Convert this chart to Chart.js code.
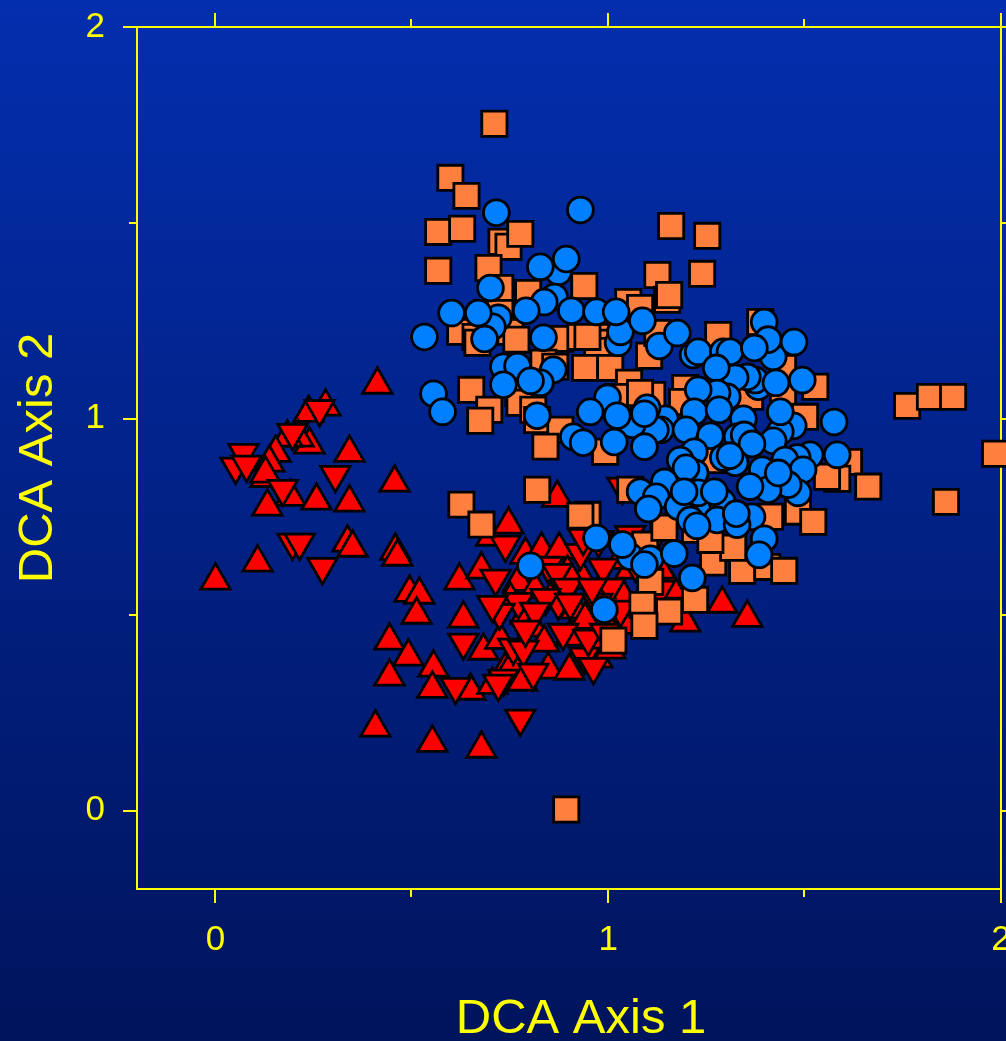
<!DOCTYPE html>
<html>
<head>
<meta charset="utf-8">
<style>
  html, body { margin: 0; padding: 0; width: 1006px; height: 1041px; overflow: hidden; }
  body { background: linear-gradient(to bottom, #032eae, #00145c); }
  canvas { display: block; }
</style>
<script src="https://cdn.jsdelivr.net/npm/chart.js@4"></script>
</head>
<body>
<canvas id="chart" width="1006" height="1041"></canvas>
<script>
// axis setup
const majorTicks = [0, 1, 2];
const minorTicks = [0.5, 1.5];
const axisMin = -0.2;
const axisMax = 2;
const xTitle = "DCA Axis 1";
const yTitle = "DCA Axis 2";

// [axis 1, axis 2]
const triUp = [
  [.412,1.087],[.280,1.031],[.237,1.015],[.341,.913],[.239,.934],[.211,.952],[.183,.952],[.153,.913],
  [.137,.888],[.127,.849],[.127,.860],[.191,.801],[.132,.776],[.257,.791],[.341,.786],[.456,.837],
  [.336,.684],[.349,.671],[.458,.663],[.463,.648],[.107,.633],[0,.587],[.494,.556],[.519,.551],
  [.512,.500],[.631,.490],[.443,.434],[.491,.393],[.682,.408],[.555,.365],[.443,.342],[.552,.311],
  [.649,.306],[.705,.321],[.738,.360],[.407,.212],[.552,.173],[.677,.158],[.621,.587],[.677,.615],
  [.702,.699],[.746,.730],[.870,.798],[.789,.653],[.830,.666],[.875,.666],[.771,.584],[.789,.500],
  [.809,.467],[.837,.429],[.847,.360],[.901,.357],[.903,.444],[.972,.388],[.987,.487],[.936,.589],
  [.896,.607],[1.056,.615],[1.038,.546],[1.163,.564],[1.196,.480],[1.290,.528],[1.354,.492],
  [.814,.564],[.852,.538],[.916,.513],[.980,.564],[1.031,.640],[1.081,.679],[1.107,.538],[1.132,.615],
  [1.005,.411],[.941,.487],[.751,.538],[.725,.436],[.756,.372],[.781,.329],[.980,.436],[1.043,.474]
];
const triDown = [
  [.071,.913],[.051,.878],[.079,.883],[.265,1.025],[.196,.964],[.305,.857],[.171,.821],[.196,.684],
  [.214,.684],[.272,.622],[.738,.679],[.713,.592],[.771,.533],[.723,.505],[.705,.525],[.631,.429],
  [.758,.416],[.784,.411],[.809,.352],[.733,.337],[.720,.324],[.611,.316],[.776,.235],[.847,.625],
  [.870,.607],[.929,.658],[.896,.569],[.873,.531],[.840,.543],[.903,.531],[.814,.508],[.885,.454],
  [.939,.393],[.949,.439],[.962,.367],[.987,.620],[1.005,.569],[.972,.531],[.959,.569],[.975,.691],
  [1.056,.704],[.992,.454],[.936,.696],[1.036,.827],[1.069,.628],[1.107,.679],[1.132,.564],[1.031,.513],
  [.789,.462]
];
const squares = [
  [.710,1.753],[.598,1.615],[.639,1.569],[.567,1.477],[.628,1.485],[.728,1.452],[.746,1.439],[.776,1.472],
  [.567,1.378],[.695,1.385],[.725,1.334],[.796,1.321],[.939,1.339],[1.051,1.298],[1.081,1.283],[1.125,1.367],
  [1.160,1.492],[1.252,1.467],[1.239,1.370],[1.150,1.304],[1.155,1.316],[.692,1.270],[.725,1.270],[.623,1.222],
  [.662,1.209],[.667,1.194],[.725,1.227],[.751,1.222],[.766,1.202],[.878,1.204],[.929,1.209],[1.000,1.209],
  [1.005,1.194],[.972,1.173],[.947,1.209],[.835,1.143],[.865,1.133],[.941,1.130],[1.005,1.130],[1.104,1.161],
  [1.125,1.219],[.651,1.074],[.697,1.023],[.674,.995],[.771,1.066],[.774,1.041],[.809,1.023],[.819,.997],
  [.878,.972],[.840,.929],[1.053,1.092],[1.025,1.056],[1.112,1.061],[1.196,1.079],[1.188,1.043],[1.081,1.066],
  [1.280,1.214],[1.387,1.247],[1.445,1.130],[1.445,1.056],[1.361,1.056],[1.527,1.082],[1.501,1.005],[.992,.916],
  [1.056,.819],[1.267,.895],[1.613,.890],[1.583,.847],[1.662,.827],[1.557,.852],[1.483,.763],[1.522,.737],
  [1.412,.750],[1.366,.628],[1.341,.612],[1.405,.622],[1.448,.612],[1.267,.633],[1.140,.725],[1.318,.671],
  [1.221,.717],[1.260,.691],[1.107,.584],[1.221,.538],[.947,.755],[1.094,.679],[1.761,1.033],[1.819,1.056],
  [1.878,1.056],[1.985,.911],[1.860,.788],[.626,.781],[.677,.730],[.819,.819],[.929,.753],[1.143,.722],
  [1.087,.525],[1.155,.508],[1.092,.472],[1.013,.434],[.893,.003]
];
const circles = [
  [.715,1.526],[.929,1.533],[.873,1.375],[.893,1.408],[.827,1.388],[.700,1.334],[.863,1.311],[.837,1.298],
  [.791,1.276],[.906,1.276],[.970,1.273],[1.025,1.194],[1.031,1.222],[1.020,1.273],[1.087,1.250],[.601,1.270],
  [.720,1.258],[.705,1.235],[.669,1.270],[.685,1.204],[.532,1.209],[.835,1.207],[1.130,1.186],[1.176,1.219],
  [1.216,1.163],[1.229,1.171],[.733,1.133],[.769,1.135],[.860,1.125],[.827,1.092],[.802,1.097],[.733,1.087],
  [.555,1.064],[.578,1.018],[.819,1.008],[.998,1.054],[.954,1.018],[1.145,1.000],[1.133,.972],[1.120,.972],
  [1.061,.985],[1.099,1.028],[1.092,1.013],[1.023,1.008],[.911,.954],[.936,.939],[1.015,.941],[1.092,.929],
  [1.293,1.171],[1.310,1.171],[1.420,1.158],[1.397,1.247],[1.407,1.202],[1.372,1.181],[1.473,1.196],[1.382,1.082],
  [1.374,1.099],[1.354,1.107],[1.323,1.105],[1.275,1.130],[1.427,1.092],[1.494,1.099],[1.303,1.056],[1.277,1.066],
  [1.229,1.074],[1.219,1.018],[1.282,1.023],[1.344,1.000],[1.471,.982],[1.438,.967],[1.438,1.018],[1.575,.992],
  [1.198,.972],[1.260,.957],[1.328,.954],[1.346,.959],[1.420,.944],[1.366,.936],[1.219,.916],[1.323,.888],
  [1.293,.901],[1.310,.906],[1.183,.895],[1.221,.862],[1.198,.875],[1.392,.870],[1.514,.908],[1.481,.901],
  [1.450,.895],[1.496,.870],[1.583,.908],[1.483,.811],[1.458,.832],[1.407,.819],[1.433,.862],[1.361,.827],
  [1.254,.786],[1.290,.788],[1.229,.811],[1.270,.814],[1.143,.839],[1.081,.814],[1.122,.801],[1.178,.776],
  [1.193,.814],[1.102,.770],[1.209,.742],[1.277,.742],[1.366,.750],[1.328,.730],[1.326,.758],[1.226,.727],
  [1.397,.694],[1.384,.653],[.970,.696],[1.056,.648],[1.036,.679],[1.107,.643],[1.092,.628],[1.168,.656],
  [1.214,.594],[.802,.625],[.990,.513]
];

const YELLOW = "#ffff00";
const FONT = "'Liberation Sans', Arial, sans-serif";

const toPoints = list => list.map(p => ({ x: p[0], y: p[1] }));

function markerSet(label, list, style, color, radius, rotation) {
  return {
    label,
    data: toPoints(list),
    pointStyle: style,
    pointRadius: radius,
    pointHoverRadius: radius,
    pointRotation: rotation || 0,
    pointBackgroundColor: color,
    pointBorderColor: "#000000",
    pointBorderWidth: 2.8,
    clip: false
  };
}

// frame, ticks on all four sides, and the off-centre x title
const frameTicks = {
  id: "frameTicks",
  beforeDatasetsDraw(chart) {
    const { ctx, chartArea: a, scales } = chart;
    ctx.save();
    ctx.strokeStyle = YELLOW;
    ctx.lineWidth = 2;
    ctx.strokeRect(a.left, a.top, a.right - a.left, a.bottom - a.top);
    const mark = (vals, len) => {
      ctx.beginPath();
      vals.forEach(v => {
        const x = Math.floor(scales.x.getPixelForValue(v));
        const y = Math.round(scales.y.getPixelForValue(v));
        ctx.moveTo(x, a.top); ctx.lineTo(x, a.top - len);
        ctx.moveTo(x, a.bottom); ctx.lineTo(x, a.bottom + len);
        ctx.moveTo(a.left, y); ctx.lineTo(a.left - len, y);
        ctx.moveTo(a.right, y); ctx.lineTo(a.right + len, y);
      });
      ctx.stroke();
    };
    mark(majorTicks, 14);
    mark(minorTicks, 8);
    ctx.fillStyle = YELLOW;
    ctx.font = "49px " + FONT;
    ctx.textAlign = "center";
    ctx.textBaseline = "middle";
    ctx.fillText(xTitle, 581, 1019);
    ctx.restore();
  }
};

const tickLabel = v => (majorTicks.includes(v) ? String(v) : "");

new Chart(document.getElementById("chart"), {
  type: "scatter",
  data: {
    // first dataset ends up on top
    datasets: [
      markerSet("Circles", circles, "circle", "#0080ff", 12.9),
      markerSet("Squares", squares, "rect", "#ff7f3f", 17.8),
      markerSet("Down", triDown, "triangle", "#ff0000", 17, 180),
      markerSet("Up", triUp, "triangle", "#ff0000", 17)
    ]
  },
  options: {
    responsive: false,
    animation: false,
    layout: { autoPadding: false, padding: { top: 27, right: 5, left: 0, bottom: 0 } },
    plugins: { legend: { display: false }, tooltip: { enabled: false } },
    scales: {
      x: {
        type: "linear",
        min: axisMin,
        max: axisMax,
        grid: { display: false },
        border: { display: false },
        afterBuildTicks: s => { s.ticks = [...majorTicks, ...minorTicks].sort((a, b) => a - b).map(value => ({ value })); },
        afterFit: s => { s.height = 152; s.paddingLeft = 0; s.paddingRight = 0; s.paddingTop = 0; s.paddingBottom = 0; },
        ticks: {
          color: YELLOW, font: { family: FONT, size: 35 }, padding: 22,
          maxRotation: 0, autoSkip: false, callback: tickLabel
        }
      },
      y: {
        type: "linear",
        min: axisMin,
        max: axisMax,
        grid: { display: false },
        border: { display: false },
        afterBuildTicks: s => { s.ticks = [...majorTicks, ...minorTicks].sort((a, b) => a - b).map(value => ({ value })); },
        afterFit: s => { s.width = 137; s.paddingLeft = 0; s.paddingRight = 0; s.paddingTop = 0; s.paddingBottom = 0; },
        title: {
          display: true, text: yTitle, color: YELLOW,
          font: { family: FONT, size: 49 }, padding: { top: 9, bottom: 0 }
        },
        ticks: {
          color: YELLOW, font: { family: FONT, size: 35 }, padding: 24,
          autoSkip: false, callback: tickLabel
        }
      }
    }
  },
  plugins: [frameTicks]
});
</script>
</body>
</html>
